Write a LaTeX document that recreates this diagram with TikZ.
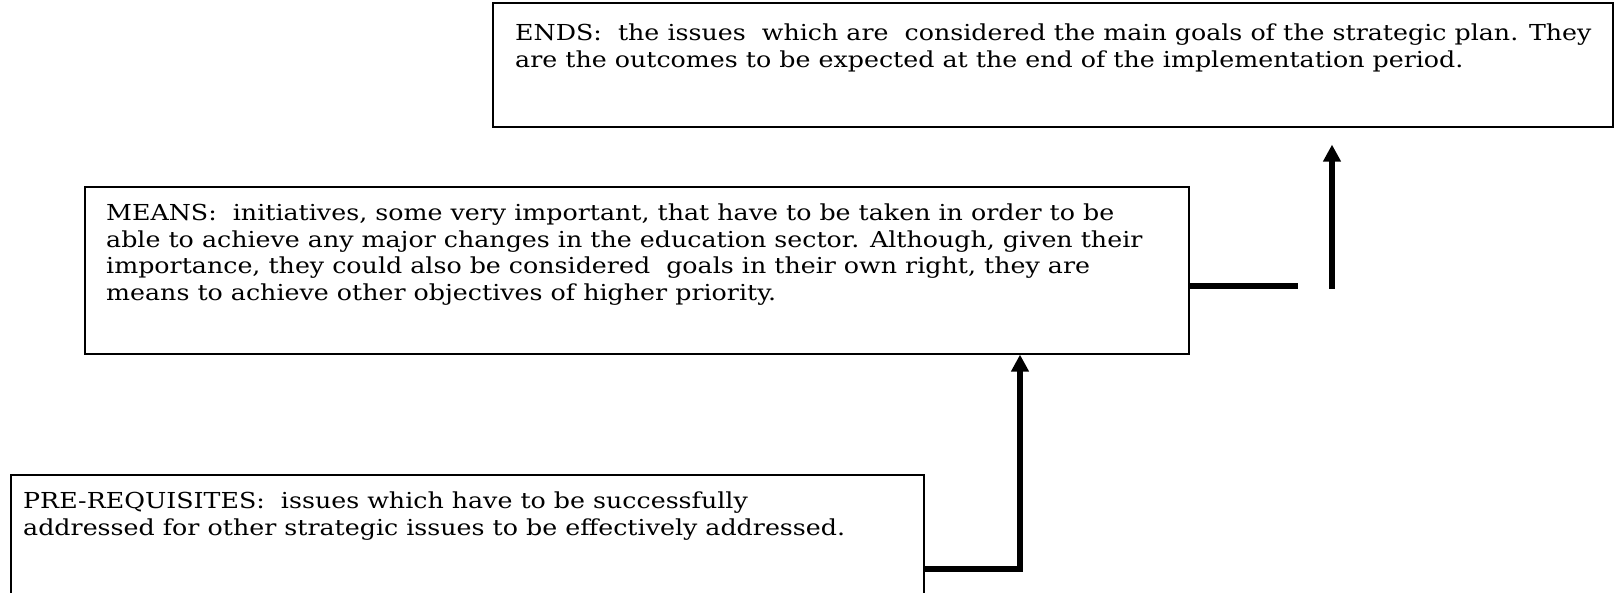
\documentclass[tikz,border=0pt]{standalone}
\usepackage{fontspec}
\setmainfont[FakeStretch=1.15]{DejaVu Serif}
\usetikzlibrary{arrows.meta,positioning,calc}
\tikzset{
  kasten/.style={draw,line width=1.6pt,inner sep=0pt,anchor=north west},
  txt/.style={anchor=north west,inner sep=0pt,align=left,font=\fontsize{22}{26.5}\selectfont},
  lin/.style={line width=5.5pt},
  pfeil/.style={-{Triangle[length=17pt,width=17pt]},line width=5.5pt},
}
\begin{document}
\begin{tikzpicture}[x=1pt,y=-1pt]
  \useasboundingbox (0,0) rectangle (1614,592);
  % boxes
  \node[kasten,minimum width=1120pt,minimum height=124pt] (ends) at (492,2) {};
  \node[kasten,minimum width=1104pt,minimum height=167pt] (means) at (84,186) {};
  \node[kasten,minimum width=913pt,minimum height=140pt] (pre) at (10,474) {};
  % texts
  \node[txt] (endstxt) at ($(ends.north west)+(23,22)$)
    {ENDS:~ the issues~ which are~ considered the main goals of the strategic plan. They\\
     are the outcomes to be expected at the end of the implementation period.};
  \node[txt] (meanstxt) at ($(means.north west)+(22,18)$)
    {MEANS:~ initiatives, some very important, that have to be taken in order to be\\
     able to achieve any major changes in the education sector. Although, given their\\
     importance, they could also be considered~ goals in their own right, they are\\
     means to achieve other objectives of higher priority.};
  \node[txt] (pretxt) at ($(pre.north west)+(13,18)$)
    {PRE-REQUISITES:~ issues which have to be successfully\\
     addressed for other strategic issues to be effectively addressed.};
  % connectors
  \draw[pfeil] ($(pre.north east)+(0,95)$) -| ($(means.south west)+(936,0)$);
  \coordinate (knick) at ($(means.north east)+(108,100)$);
  \draw[lin] ($(means.north east)+(0,100)$) -- (knick);
  \coordinate (fuss) at ($(ends.south west)+(840,161)$);
  \draw[pfeil] (fuss) -- ($(ends.south west)+(840,17)$);
\end{tikzpicture}
\end{document}
